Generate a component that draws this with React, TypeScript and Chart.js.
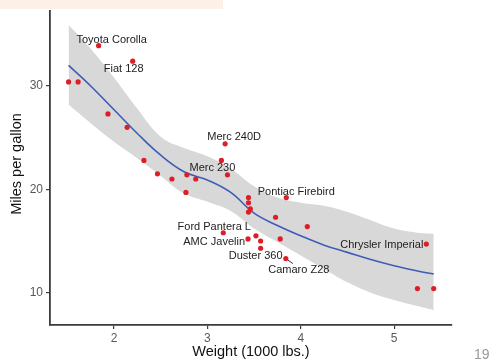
import React, { useEffect, useRef } from "react";
import { Chart, registerables } from "chart.js";

Chart.register(...registerables);

// mtcars: car names, weight (1000 lbs) and miles per gallon
const carNames = [
  "Mazda RX4", "Mazda RX4 Wag", "Datsun 710", "Hornet 4 Drive", "Hornet Sportabout",
  "Valiant", "Duster 360", "Merc 240D", "Merc 230", "Merc 280", "Merc 280C",
  "Merc 450SE", "Merc 450SL", "Merc 450SLC", "Cadillac Fleetwood", "Lincoln Continental",
  "Chrysler Imperial", "Fiat 128", "Honda Civic", "Toyota Corolla", "Toyota Corona",
  "Dodge Challenger", "AMC Javelin", "Camaro Z28", "Pontiac Firebird", "Fiat X1-9",
  "Porsche 914-2", "Lotus Europa", "Ford Pantera L", "Ferrari Dino", "Maserati Bora", "Volvo 142E",
];
const weights = [
  2.62, 2.875, 2.32, 3.215, 3.44, 3.46, 3.57, 3.19, 3.15, 3.44, 3.44, 4.07, 3.73, 3.78,
  5.25, 5.424, 5.345, 2.2, 1.615, 1.835, 2.465, 3.52, 3.435, 3.84, 3.845, 1.935, 2.14,
  1.513, 3.17, 2.77, 3.57, 2.78,
];
const mpgValues = [
  21.0, 21.0, 22.8, 21.4, 18.7, 18.1, 14.3, 24.4, 22.8, 19.2, 17.8, 16.4, 17.3, 15.2,
  10.4, 10.4, 14.7, 32.4, 30.4, 33.9, 21.5, 15.5, 15.2, 13.3, 19.2, 27.3, 26.0, 30.4,
  15.8, 19.7, 15.0, 21.4,
];

// smoothed fit and confidence band
const fitWeights = [1.513, 1.75, 2.0, 2.25, 2.5, 2.75, 3.0, 3.25, 3.5, 3.75, 4.0, 4.25, 4.5, 4.75, 5.0, 5.25, 5.424];
const fitMpg = [32.0, 30.0, 27.7, 25.4, 23.3, 21.7, 20.9, 19.7, 17.7, 16.5, 15.5, 14.6, 13.9, 13.2, 12.6, 12.1, 11.8];
const bandUpper = [35.9, 33.6, 30.8, 27.8, 25.1, 24.0, 23.2, 22.0, 20.3, 19.2, 18.7, 18.4, 17.8, 17.0, 16.2, 15.8, 15.7];
const bandLower = [28.2, 26.4, 24.6, 23.0, 21.3, 19.6, 18.8, 17.9, 16.2, 14.9, 13.6, 12.3, 11.0, 10.0, 9.3, 8.7, 8.3];

const labelledCars = [
  "Toyota Corolla", "Fiat 128", "Merc 240D", "Merc 230", "Pontiac Firebird",
  "Ford Pantera L", "AMC Javelin", "Duster 360", "Camaro Z28", "Chrysler Imperial",
];

const xTicks = [2, 3, 4, 5];
const yTicks = [10, 20, 30];
const xTitle = "Weight (1000 lbs.)";
const yTitle = "Miles per gallon";
const pageNumber = "19";

// label placement (pixel offsets from point, text alignment)
const labelPlacement: Record<string, [number, number, CanvasTextAlign]> = {
  "Toyota Corolla": [13, -6, "center"],
  "Fiat 128": [-9, 8, "center"],
  "Merc 240D": [9, -7, "center"],
  "Merc 230": [-9, 8, "center"],
  "Pontiac Firebird": [10, -6, "center"],
  "Ford Pantera L": [-9, -6, "center"],
  "AMC Javelin": [-3, 3, "right"],
  "Duster 360": [-5, 8, "center"],
  "Camaro Z28": [13, 11.5, "center"],
  "Chrysler Imperial": [-3, 1, "right"],
};

const FONT = "'Liberation Sans', Arial, Helvetica, sans-serif";

const labelPlugin = {
  id: "carLabels",
  afterDatasetsDraw(chart: any) {
    const { ctx, scales } = chart;
    ctx.save();
    ctx.font = `11px ${FONT}`;
    ctx.fillStyle = "#222";
    ctx.textBaseline = "middle";
    labelledCars.forEach((name) => {
      const i = carNames.indexOf(name);
      const px = scales.x.getPixelForValue(weights[i]);
      const py = scales.y.getPixelForValue(mpgValues[i]);
      const [dx, dy, align] = labelPlacement[name];
      ctx.textAlign = align;
      ctx.fillText(name, px + dx, py + dy);
      if (name === "Camaro Z28") {
        ctx.strokeStyle = "#333";
        ctx.lineWidth = 1;
        ctx.beginPath();
        ctx.moveTo(px + 2, py + 1.5);
        ctx.lineTo(px + 7, py + 5);
        ctx.stroke();
      }
    });
    ctx.restore();
  },
  afterDraw(chart: any) {
    const { ctx, chartArea } = chart;
    ctx.save();
    ctx.fillStyle = "#111";
    ctx.font = `14.5px ${FONT}`;
    ctx.textAlign = "center";
    ctx.textBaseline = "middle";
    ctx.fillText(xTitle, (chartArea.left + chartArea.right) / 2, 352);
    ctx.translate(17, 164);
    ctx.rotate(-Math.PI / 2);
    ctx.fillText(yTitle, 0, 0);
    ctx.restore();
  },
};

export default function App() {
  const canvasRef = useRef<HTMLCanvasElement>(null);

  useEffect(() => {
    const canvas = canvasRef.current;
    if (!canvas) return;
    const points = weights.map((w, i) => ({ x: w, y: mpgValues[i] }));
    const fit = fitWeights.map((w, i) => ({ x: w, y: fitMpg[i] }));
    const up = fitWeights.map((w, i) => ({ x: w, y: bandUpper[i] }));
    const lo = fitWeights.map((w, i) => ({ x: w, y: bandLower[i] }));

    const axisColor = "#3a3a3a";
    const chart = new Chart(canvas, {
      type: "scatter",
      data: {
        datasets: [
          {
            data: points,
            backgroundColor: "#dc1f26",
            borderWidth: 0,
            pointRadius: 2.6,
            showLine: false,
          },
          {
            data: fit,
            showLine: true,
            borderColor: "#3f5cb8",
            borderWidth: 1.6,
            pointRadius: 0,
            tension: 0.4,
            fill: false,
          },
          {
            data: up,
            showLine: true,
            borderWidth: 0,
            borderColor: "rgba(0,0,0,0)",
            pointRadius: 0,
            tension: 0.4,
            fill: "+1",
            backgroundColor: "#d8d8d8",
          },
          {
            data: lo,
            showLine: true,
            borderWidth: 0,
            borderColor: "rgba(0,0,0,0)",
            pointRadius: 0,
            tension: 0.4,
            fill: false,
          },
        ],
      },
      options: {
        animation: false,
        responsive: false,
        maintainAspectRatio: false,
        layout: { padding: { left: 0, top: 11, right: 39, bottom: 0 } },
        plugins: {
          legend: { display: false },
          tooltip: { enabled: false },
          title: { display: false },
        },
        scales: {
          x: {
            type: "linear",
            min: 1.314,
            max: 5.62,
            afterBuildTicks: (scale: any) => {
              scale.ticks = xTicks.map((v) => ({ value: v }));
            },
            afterFit: (scale: any) => {
              scale.height = 37;
            },
            grid: {
              drawOnChartArea: false,
              drawTicks: true,
              tickLength: 4,
              color: axisColor,
              tickColor: axisColor,
              lineWidth: 1.2,
            },
            border: { display: true, color: axisColor, width: 1.8 },
            ticks: {
              color: "#5a5a5a",
              font: { family: FONT, size: 12 },
              padding: 2,
              maxRotation: 0,
              callback: (v: any) => String(v),
            },
          },
          y: {
            type: "linear",
            min: 6.87,
            max: 37.26,
            afterBuildTicks: (scale: any) => {
              scale.ticks = yTicks.map((v) => ({ value: v }));
            },
            afterFit: (scale: any) => {
              scale.width = 50;
            },
            grid: {
              drawOnChartArea: false,
              drawTicks: true,
              tickLength: 4,
              color: axisColor,
              tickColor: axisColor,
              lineWidth: 1.2,
            },
            border: { display: true, color: axisColor, width: 1.8 },
            ticks: {
              color: "#5a5a5a",
              font: { family: FONT, size: 12 },
              padding: 3,
              callback: (v: any) => String(v),
            },
          },
        },
      },
      plugins: [labelPlugin],
    });
    return () => chart.destroy();
  }, []);

  return (
    <div
      style={{
        position: "fixed",
        left: 0,
        top: 0,
        width: 491,
        height: 362,
        background: "#ffffff",
        overflow: "hidden",
      }}
    >
      <canvas ref={canvasRef} width={491} height={362} style={{ position: "absolute", left: 0, top: 0 }} />
      <div
        style={{
          position: "absolute",
          left: 0,
          top: 0,
          width: 223,
          height: 9,
          background: "#fdf0e6",
        }}
      />
      <div
        style={{
          position: "absolute",
          left: 474,
          top: 346,
          fontFamily: FONT,
          fontSize: 14,
          color: "#9a9a9a",
          lineHeight: "16px",
        }}
      >
        {pageNumber}
      </div>
    </div>
  );
}
